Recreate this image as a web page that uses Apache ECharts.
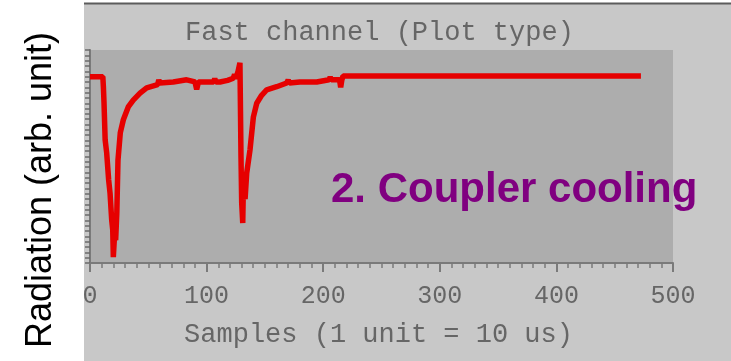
<!DOCTYPE html>
<html>
<head>
<meta charset="utf-8">
<script src="https://cdn.jsdelivr.net/npm/echarts@6/dist/echarts.min.js"></script>
<style>
  html, body { margin: 0; padding: 0; background: #ffffff; }
  #chart { width: 731px; height: 361px; }
</style>
</head>
<body>
<div id="chart"></div>
<script>
// Fast-channel radiation trace: sample index and signal level (arb. unit)
const samples = [
  0, 11, 11.5, 12, 13, 14.3, 16, 17.2, 18.6, 19.5, 20, 21, 22, 23, 24, 26, 28.6,
  32.8, 37.1, 42.9, 48.6, 58, 59, 60, 71.4, 82.9, 90, 91.5, 93, 106, 107, 108,
  111.5, 118, 122.9, 124, 125, 127, 128.6, 129.5, 130.1, 131, 131.5, 133, 134.4,
  137.2, 140.1, 143, 147.2, 151.5, 160.1, 168.7, 170, 171, 180, 194.4, 205, 206,
  207, 214, 215, 216, 217, 472.5
];
const radiation = [
  35.0, 35.0, 33.0, 30.2, 23.1, 20.7, 15.6, 13.1, 8.1, 6.2, 1.1, 5.0, 4.3, 9.4, 19.3, 24.5, 26.9,
  29.3, 30.6, 31.9, 32.9, 33.5, 34.4, 33.8, 34.0, 34.4, 34.0, 32.6, 34.0, 34.0, 34.6, 34.0,
  34.0, 34.3, 34.7, 35.4, 34.6, 36.0, 37.6, 19.9, 11.3, 7.5, 14.0, 12.0, 16.9,
  21.2, 27.4, 30.0, 31.5, 32.5, 33.1, 33.8, 34.4, 33.8, 34.0, 34.0, 34.4, 34.9,
  34.4, 34.4, 33.0, 34.4, 35.1, 35.1
];
const xTicks = [0, 100, 200, 300, 400, 500];
const yRange = [0, 40];

const titleText = 'Fast channel (Plot type)';
const xName = 'Samples (1 unit = 10 us)';
const yName = 'Radiation (arb. unit)';
const note = '2. Coupler cooling';

const mono = '"Liberation Mono", "DejaVu Sans Mono", monospace';
const sans = '"Liberation Sans", Arial, sans-serif';
const grey = '#666666';

const chart = echarts.init(document.getElementById('chart'), null, { renderer: 'canvas' });

chart.setOption({
  animation: false,
  backgroundColor: '#ffffff',
  title: {
    text: titleText,
    left: 180,
    top: 14,
    textStyle: { fontFamily: mono, fontSize: 27, fontWeight: 'normal', color: grey }
  },
  grid: {
    left: 90, right: 58, top: 50, bottom: 98,
    show: true, backgroundColor: '#adadad', borderWidth: 0,
    containLabel: false
  },
  xAxis: {
    type: 'value',
    min: xTicks[0],
    max: xTicks[xTicks.length - 1],
    interval: xTicks[1] - xTicks[0],
    name: xName,
    nameLocation: 'middle',
    nameGap: 58,
    nameTextStyle: { fontFamily: mono, fontSize: 27, color: grey, padding: [0, 6, 0, 0] },
    axisLine: { show: true, onZero: false, lineStyle: { color: '#7a7a7a', width: 2 } },
    axisTick: { show: true, inside: false, length: 9, lineStyle: { color: '#7a7a7a', width: 2 } },
    minorTick: { show: true, splitNumber: 10, length: 5, lineStyle: { color: '#7a7a7a', width: 1.5 } },
    axisLabel: { margin: 21, fontFamily: mono, fontSize: 25, color: grey },
    splitLine: { show: false }
  },
  yAxis: {
    type: 'value',
    min: yRange[0],
    max: yRange[1],
    interval: 1,
    axisLine: { show: true, lineStyle: { color: '#7a7a7a', width: 2 } },
    axisTick: { show: true, inside: false, length: 5, lineStyle: { color: '#6a6a6a', width: 1.5 } },
    axisLabel: { show: false },
    splitLine: { show: false }
  },
  series: [{
    type: 'line',
    data: samples.map((s, i) => [s, radiation[i]]),
    showSymbol: false,
    symbol: 'none',
    lineStyle: { color: '#e60000', width: 5.5, join: 'bevel' },
    z: 3
  }],
  graphic: [
    // grey panel behind the plot
    { type: 'rect', z: -10, silent: true, shape: { x: 84, y: 3, width: 647, height: 358 }, style: { fill: '#c8c8c8' } },
    { type: 'rect', z: -9, silent: true, shape: { x: 84, y: 2.5, width: 647, height: 2 }, style: { fill: '#5c5c5c' } },
    // white margin on the left with the vertical axis caption
    { type: 'rect', z: 50, silent: true, shape: { x: 0, y: 0, width: 84, height: 361 }, style: { fill: '#ffffff' } },
    {
      type: 'text', z: 51, silent: true, x: 41, y: 190, rotation: Math.PI / 2,
      style: { text: yName, font: '36px ' + sans, fill: '#000000', align: 'center', verticalAlign: 'middle' }
    },
    {
      type: 'text', z: 51, silent: true, x: 331, y: 169,
      style: { text: note, font: 'bold 42px ' + sans, fill: '#800080', align: 'left', verticalAlign: 'top' }
    }
  ]
});
</script>
</body>
</html>
